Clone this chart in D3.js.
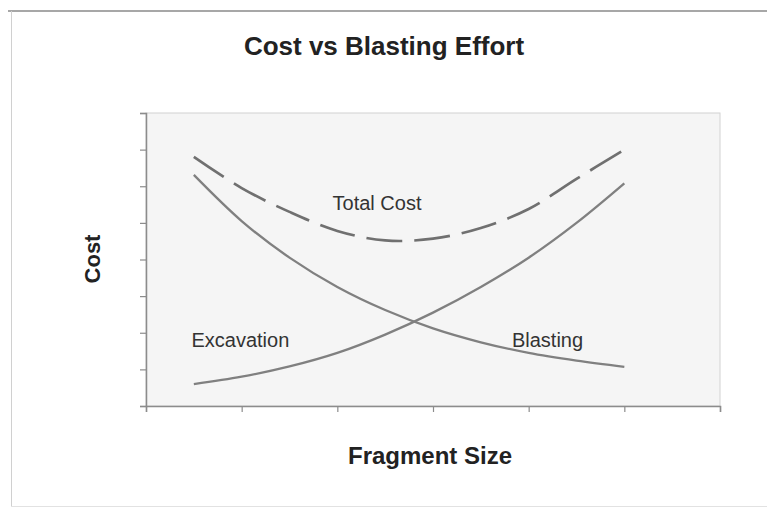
<!DOCTYPE html>
<html>
<head>
<meta charset="utf-8">
<script src="https://cdn.jsdelivr.net/npm/d3@7"></script>
<style>
  html, body { margin: 0; padding: 0; background: #fff; }
  svg { display: block; }
</style>
</head>
<body>
<svg id="chart" width="767" height="508"></svg>
<script>
// ---- data ----
const fragmentSize = [1, 2, 3, 4, 5, 6, 7, 8, 9, 10];
const blastingCost = [6.31, 5.05, 4.05, 3.25, 2.62, 2.12, 1.74, 1.45, 1.24, 1.07];
const excavationCost = [0.6, 0.8, 1.08, 1.45, 1.95, 2.55, 3.25, 4.05, 5.0, 6.08];
const totalCost = [6.8, 5.95, 5.3, 4.78, 4.52, 4.57, 4.86, 5.38, 6.2, 7.0];
const xTicks = [0, 2, 4, 6, 8, 10, 12];
const yTicks = [0, 1, 2, 3, 4, 5, 6, 7, 8];
const titleText = "Cost vs Blasting Effort";
const xTitle = "Fragment Size";
const yTitle = "Cost";
const seriesLabels = [
  { text: "Total Cost", x: 3.9, y: 5.36 },
  { text: "Excavation", x: 0.95, y: 1.6 },
  { text: "Blasting", x: 7.65, y: 1.62 }
];

const svg = d3.select("#chart");
const font = "'Liberation Sans', Arial, Helvetica, sans-serif";

// outer frame
svg.append("line").attr("x1", 8).attr("x2", 767).attr("y1", 11).attr("y2", 11)
  .attr("stroke", "#8a8a8a").attr("stroke-width", 1.3);
svg.append("line").attr("x1", 11.5).attr("x2", 11.5).attr("y1", 11).attr("y2", 507)
  .attr("stroke", "#d0d0d0").attr("stroke-width", 1);
svg.append("line").attr("x1", 11).attr("x2", 767).attr("y1", 506.5).attr("y2", 506.5)
  .attr("stroke", "#e2e2e2").attr("stroke-width", 1);

const L = 146, R = 720, T = 113, B = 406;
const x = d3.scaleLinear().domain([0, 12]).range([L, R]);
const y = d3.scaleLinear().domain([0, 8]).range([B, T]);

// plot area
svg.append("rect").attr("x", L).attr("y", T).attr("width", R - L).attr("height", B - T)
  .attr("fill", "#f5f5f5").attr("stroke", "#d2d2d2").attr("stroke-width", 1);

// axes
const yAxis = svg.append("g").attr("transform", `translate(${L},0)`)
  .call(d3.axisLeft(y).tickValues(yTicks).tickSize(6).tickFormat(""));
const xAxis = svg.append("g").attr("transform", `translate(0,${B})`)
  .call(d3.axisBottom(x).tickValues(xTicks).tickSize(6).tickFormat(""));
[yAxis, xAxis].forEach(g => {
  g.select(".domain").attr("stroke", "#8c8c8c").attr("stroke-width", 1.5);
  g.selectAll(".tick line").attr("stroke", "#8c8c8c").attr("stroke-width", 1.2);
});

// lines
const line = d3.line()
  .x((d, i) => x(fragmentSize[i]))
  .y(d => y(d))
  .curve(d3.curveCatmullRom.alpha(0.5));

svg.append("path").datum(blastingCost).attr("d", line)
  .attr("fill", "none").attr("stroke", "#808080").attr("stroke-width", 2.3);
svg.append("path").datum(excavationCost).attr("d", line)
  .attr("fill", "none").attr("stroke", "#808080").attr("stroke-width", 2.3);
svg.append("path").datum(totalCost).attr("d", line)
  .attr("fill", "none").attr("stroke", "#707070").attr("stroke-width", 2.7)
  .attr("stroke-dasharray", "36,12");

// series labels
svg.selectAll("text.series").data(seriesLabels).enter().append("text")
  .attr("class", "series")
  .attr("x", d => x(d.x)).attr("y", d => y(d.y))
  .attr("font-family", font).attr("font-size", 20).attr("fill", "#333")
  .text(d => d.text);

// titles
svg.append("text").attr("x", 384).attr("y", 55).attr("text-anchor", "middle")
  .attr("font-family", font).attr("font-size", 26).attr("font-weight", "bold")
  .attr("fill", "#222").text(titleText);
svg.append("text").attr("x", 430).attr("y", 464).attr("text-anchor", "middle")
  .attr("font-family", font).attr("font-size", 24).attr("font-weight", "bold")
  .attr("fill", "#222").text(xTitle);
svg.append("text").attr("transform", "translate(100,259) rotate(-90)")
  .attr("text-anchor", "middle")
  .attr("font-family", font).attr("font-size", 22).attr("font-weight", "bold")
  .attr("fill", "#222").text(yTitle);
</script>
</body>
</html>
